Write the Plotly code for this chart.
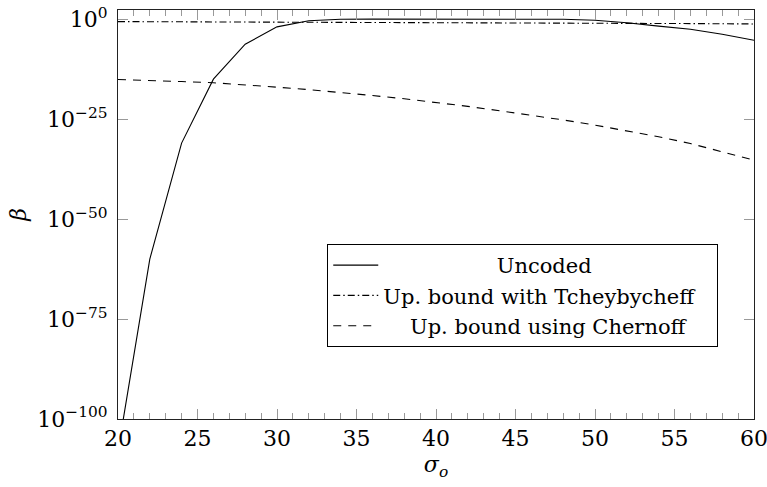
import plotly.graph_objects as go

sigma = [20, 22, 24, 26, 28, 30, 32, 34, 36, 38, 40, 42, 44, 46, 48, 50, 52, 54, 56, 58, 60]

uncoded = [1e-108, 1e-60, 1e-31, 1e-15, 5.6e-7, 1.2e-2, 0.4, 1.0, 1.05, 1.1, 1.1, 1.1, 1.1, 1.05, 0.95,
           0.56, 0.13, 0.018, 3e-3, 1.8e-4, 5.6e-6]

tcheby = [0.25, 0.24, 0.23, 0.22, 0.21, 0.2, 0.19, 0.18, 0.17, 0.16, 0.15, 0.14, 0.13, 0.125,
          0.12, 0.11, 0.10, 0.09, 0.08, 0.072, 0.065]

chernoff = [10 ** v for v in [-15.1, -15.3, -15.6, -15.9, -16.4, -17.0, -17.6, -18.3, -19.1, -19.9,
                              -20.8, -21.8, -22.9, -24.0, -25.2, -26.5, -27.9, -29.4, -31.1, -33.1, -35.25]]

y_tickvals = [1e-100, 1e-75, 1e-50, 1e-25, 1e0]
y_ticktext = ["10<sup>−100</sup>", "10<sup>−75</sup>", "10<sup>−50</sup>", "10<sup>−25</sup>", "10<sup>0</sup>"]

names = ["Uncoded", "Up. bound with Tcheybycheff", "Up. bound using Chernoff"]

NB = "\u00a0"
FONT = "DejaVu Serif"

fig = go.Figure()
fig.add_trace(go.Scatter(x=sigma, y=uncoded, mode="lines", name=NB * 17 + names[0] + NB * 17,
                         line=dict(color="black", width=1.1), legendgroup="a"))
fig.add_trace(go.Scatter(x=sigma, y=tcheby, mode="lines", name=names[1],
                         line=dict(color="black", width=1.1, dash="7px,3px,1.5px,3px"), legendgroup="b"))
fig.add_trace(go.Scatter(x=sigma, y=chernoff, mode="lines", name=NB * 4 + names[2] + NB * 4,
                         line=dict(color="black", width=1.1, dash="8px,7px"), legendgroup="c"))

fig.update_layout(
    width=767, height=487,
    margin=dict(l=118, r=13, t=10, b=68),
    paper_bgcolor="white", plot_bgcolor="white",
    font=dict(family=FONT, size=22, color="black"),
    showlegend=True,
    legend=dict(x=0.329, y=0.428, xanchor="left", yanchor="top",
                bordercolor="black", borderwidth=1, bgcolor="white",
                font=dict(family=FONT, size=21), tracegroupgap=0, itemwidth=45),
)

fig.update_xaxes(
    range=[20, 60], dtick=5, tick0=20, automargin=False, ticklabeloverflow="allow",
    showline=True, linecolor="#222", linewidth=1, mirror="ticks",
    ticks="inside", ticklen=10, tickcolor="#999", tickwidth=1,
    minor=dict(dtick=1, ticks="inside", ticklen=6, tickcolor="#999", tickwidth=1),
    showgrid=False, zeroline=False,
    tickfont=dict(family=FONT, size=22),
    title=dict(text="<i>σ<sub>o</sub></i>", font=dict(family=FONT, size=22), standoff=6),
)

fig.update_yaxes(
    type="log", range=[-100, 2.3], automargin=False, ticklabelstandoff=5,
    tickvals=y_tickvals, ticktext=y_ticktext,
    showline=True, linecolor="#222", linewidth=1, mirror="ticks",
    ticks="inside", ticklen=10, tickcolor="#999", tickwidth=1,
    showgrid=False, zeroline=False,
    tickfont=dict(family=FONT, size=22),
    title=dict(text="<i>β</i>", font=dict(family=FONT, size=22), standoff=4),
)

fig.write_html("out.html")
